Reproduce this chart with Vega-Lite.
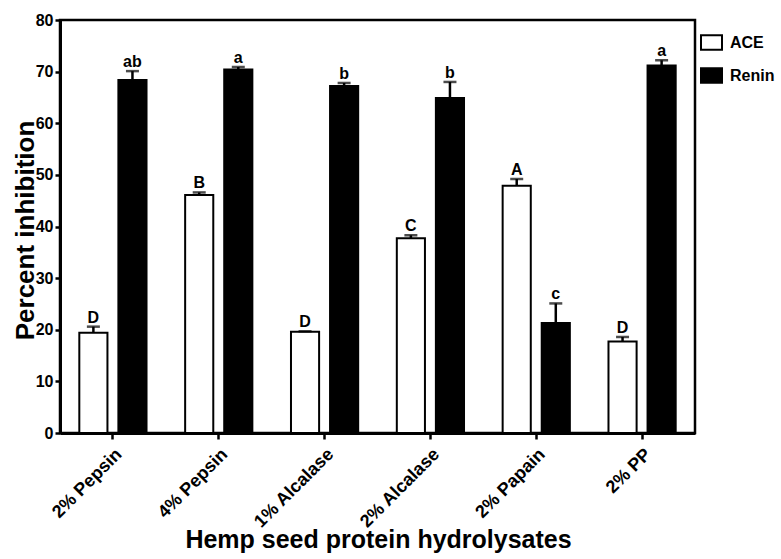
{
  "$schema": "https://vega.github.io/schema/vega-lite/v6.json",
  "description": "ACE and renin inhibition by hemp seed protein hydrolysates.",
  "autosize": "none",
  "width": 635,
  "height": 413,
  "padding": {"left": 60, "top": 20, "right": 86, "bottom": 126},
  "data": {
    "values": [
      {"hydrolysate": "2% Pepsin", "enzyme": "ACE", "inhibition": 19.4, "upper": 20.6, "letter": "D"},
      {"hydrolysate": "2% Pepsin", "enzyme": "Renin", "inhibition": 68.4, "upper": 70.1, "letter": "ab"},
      {"hydrolysate": "4% Pepsin", "enzyme": "ACE", "inhibition": 46.1, "upper": 46.6, "letter": "B"},
      {"hydrolysate": "4% Pepsin", "enzyme": "Renin", "inhibition": 70.4, "upper": 70.9, "letter": "a"},
      {"hydrolysate": "1% Alcalase", "enzyme": "ACE", "inhibition": 19.6, "upper": 19.7, "letter": "D"},
      {"hydrolysate": "1% Alcalase", "enzyme": "Renin", "inhibition": 67.2, "upper": 67.8, "letter": "b"},
      {"hydrolysate": "2% Alcalase", "enzyme": "ACE", "inhibition": 37.7, "upper": 38.3, "letter": "C"},
      {"hydrolysate": "2% Alcalase", "enzyme": "Renin", "inhibition": 64.9, "upper": 68.0, "letter": "b"},
      {"hydrolysate": "2% Papain", "enzyme": "ACE", "inhibition": 47.9, "upper": 49.2, "letter": "A"},
      {"hydrolysate": "2% Papain", "enzyme": "Renin", "inhibition": 21.3, "upper": 25.1, "letter": "c"},
      {"hydrolysate": "2% PP", "enzyme": "ACE", "inhibition": 17.7, "upper": 18.6, "letter": "D"},
      {"hydrolysate": "2% PP", "enzyme": "Renin", "inhibition": 71.2, "upper": 72.2, "letter": "a"}
    ]
  },
  "encoding": {
    "x": {
      "field": "hydrolysate",
      "type": "nominal",
      "sort": null,
      "scale": {"paddingInner": 0.365, "paddingOuter": 0.1825},
      "axis": {
        "title": "Hemp seed protein hydrolysates",
        "titleFontSize": 25,
        "titleX": 318,
        "titleY": 114,
        "titleBaseline": "alphabetic",
        "labelAngle": -45,
        "labelFontSize": 18,
        "labelPadding": 6,
        "tickSize": 6
      }
    },
    "xOffset": {
      "field": "enzyme",
      "type": "nominal",
      "scale": {"paddingInner": 0.28, "paddingOuter": 0}
    },
    "y": {
      "field": "inhibition",
      "type": "quantitative",
      "scale": {"domain": [0, 80], "nice": false},
      "axis": {
        "title": "Percent inhibition",
        "titleFontSize": 26,
        "titleX": -27,
        "titleY": 210,
        "titleBaseline": "alphabetic",
        "values": [0, 10, 20, 30, 40, 50, 60, 70, 80],
        "labelFontSize": 16,
        "labelPadding": 2,
        "tickSize": 5,
        "grid": false
      }
    }
  },
  "layer": [
    {
      "mark": {"type": "bar", "stroke": "black", "strokeWidth": 2},
      "encoding": {
        "fill": {
          "field": "enzyme",
          "type": "nominal",
          "scale": {"domain": ["ACE", "Renin"], "range": ["white", "black"]},
          "legend": {
            "title": null,
            "orient": "none",
            "legendX": 640,
            "legendY": 11,
            "padding": 0,
            "symbolType": "M-1,-0.7H1V0.7H-1Z",
            "symbolSize": 441,
            "symbolStrokeColor": "black",
            "symbolStrokeWidth": 2,
            "labelFontSize": 16,
            "labelOffset": 7,
            "rowPadding": 10
          }
        }
      }
    },
    {
      "mark": {"type": "rule", "color": "black", "strokeWidth": 2.5},
      "encoding": {"y2": {"field": "upper"}}
    },
    {
      "mark": {"type": "tick", "color": "black", "size": 13, "thickness": 2.5},
      "encoding": {"y": {"field": "upper", "type": "quantitative"}}
    },
    {
      "mark": {"type": "text", "baseline": "alphabetic", "dy": -4, "fontSize": 16, "fontWeight": "bold", "color": "black"},
      "encoding": {
        "y": {"field": "upper", "type": "quantitative"},
        "text": {"field": "letter"}
      }
    }
  ],
  "config": {
    "font": "Liberation Sans",
    "view": {"stroke": "black", "strokeWidth": 2.5},
    "axis": {
      "domainColor": "black",
      "domainWidth": 3,
      "tickColor": "black",
      "tickWidth": 2.5,
      "labelColor": "black",
      "labelFont": "Liberation Sans",
      "labelFontWeight": "bold",
      "titleColor": "black",
      "titleFont": "Liberation Sans",
      "titleFontWeight": "bold"
    },
    "legend": {
      "labelFont": "Liberation Sans",
      "labelFontWeight": "bold",
      "labelColor": "black"
    }
  }
}
